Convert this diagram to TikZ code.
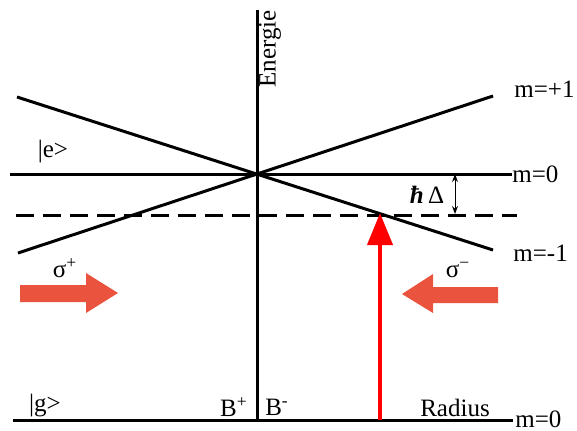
\documentclass[tikz,border=0pt]{standalone}
\usepackage{fontspec}
\setmainfont{Liberation Serif}
\usetikzlibrary{arrows.meta,positioning}
\definecolor{beamred}{RGB}{234,84,62}
\definecolor{laserred}{RGB}{255,0,0}
\tikzset{
  level/.style={line width=1.5pt,draw=black},
  shifted/.style={level,dash pattern=on 9pt off 4.5pt},
  lab/.style={font=\fontsize{12.5}{14}\selectfont,inner sep=0pt},
  laser/.style={-{Triangle[length=16pt,width=12.5pt]},line width=2pt,draw=laserred},
  gap/.style={{Stealth[length=4pt,width=3pt]}-{Stealth[length=4pt,width=3pt]},line width=0.5pt},
  beam/.style={fill=beamred},
}
\begin{document}
\begin{tikzpicture}[x=0.5pt,y=-0.5pt]
  \useasboundingbox (0,0) rectangle (577,430);
  % axis and levels
  \coordinate (axtop) at (257,10);
  \coordinate (axbot) at (257,420);
  \coordinate (eleft) at (10,174);
  \coordinate (eright) at (512,174);
  \coordinate (dleft) at (16,215);
  \coordinate (dright) at (517,215);
  \coordinate (gleft) at (13,420);
  \coordinate (gright) at (513,420);
  \coordinate (upl) at (17,97);
  \coordinate (dnr) at (493,250);
  \coordinate (dnl) at (18,253);
  \coordinate (upr) at (493,96);
  \draw[level] (axtop) -- (axbot);
  \draw[level] (eleft) -- (eright);
  \draw[level] (gleft) -- (gright);
  \draw[shifted] (dleft) -- (dright);
  \draw[level] (upl) -- (dnr);
  \draw[level] (dnl) -- (upr);
  % labels
  \node[lab,rotate=90] (energie) at (270,49) {Energie};
  \node[lab] (ke) at (53,152) {|e>};
  \node[lab] (kg) at (45,406) {|g>};
  \node[lab,anchor=west] (mp1) at (514,89) {m=+1};
  \node[lab,anchor=west] (m0e) at (512,174) {m=0};
  \node[lab,anchor=west] (mm1) at (513,253) {m=-1};
  \node[lab,anchor=base west] (m0g) at (515,427) {m=0};
  \node[lab] (bplus) at (234,407) {B\textsuperscript{+}};
  \node[lab] (bminus) at (277,407) {B\textsuperscript{-}};
  \node[lab] (radius) at (455,408) {Radius};
  \node[lab] (hd) at (427,195) {\textbf{\textit{ħ}}\,Δ};
  % detuning and laser
  \coordinate (gtop) at (455,174);
  \coordinate (gbot) at (455,214);
  \draw[gap] (gtop) -- (gbot);
  \coordinate (lbase) at (380,420);
  \coordinate (ltip) at (380,213);
  \draw[laser] (lbase) -- (ltip);
  % sigma beams
  \fill[beam] (20,285) -- (86,285) -- (86,273) -- (118,293) -- (86,313) -- (86,302) -- (20,302) -- cycle;
  \fill[beam] (498,287) -- (433,287) -- (433,274) -- (402,294) -- (433,313) -- (433,303) -- (498,303) -- cycle;
  \node[lab] (sp) at (65,268) {σ\textsuperscript{+}};
  \node[lab] (sm) at (458,270) {σ\textsuperscript{−}};
\end{tikzpicture}
\end{document}
